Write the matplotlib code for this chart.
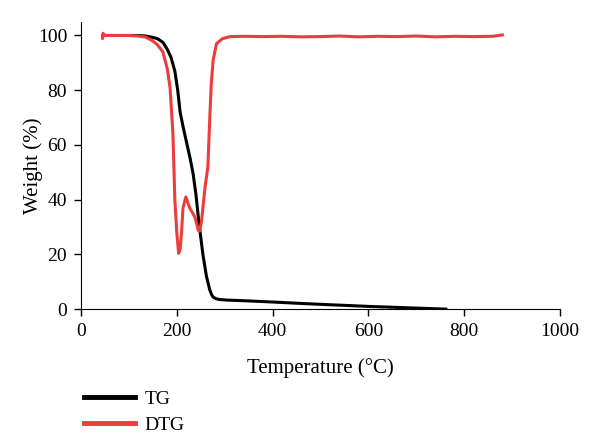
import matplotlib
matplotlib.use("Agg")
import matplotlib.pyplot as plt
from matplotlib.lines import Line2D

plt.rcParams['font.family'] = ['Liberation Serif', 'DejaVu Serif']

tg_temp = [46, 60, 90, 120, 135, 150, 160, 171, 180, 188, 196, 202, 207, 214, 221, 228, 234, 240, 246, 251, 255, 262, 269, 273, 276, 282, 290, 305, 350, 400, 457, 520, 600, 680, 730, 762]
tg_weight = [100, 100, 100, 100, 99.8, 99.3, 98.8, 97.5, 95, 92, 87, 80, 72, 66, 60.5, 55, 49.6, 42, 32, 25, 19.5, 12, 7, 5.2, 4.4, 3.8, 3.5, 3.3, 3.0, 2.6, 2.1, 1.6, 1.0, 0.5, 0.2, 0.0]

dtg_temp = [45, 46, 48, 52, 60, 80, 100, 120, 135, 150, 160, 171, 180, 186, 192, 196, 200, 204, 207, 210, 213, 219, 227, 238, 245, 248, 252, 259, 265, 269, 272, 276, 283, 295, 311, 340, 380, 420, 460, 500, 540, 580, 620, 660, 700, 740, 780, 820, 860, 880]
dtg_weight = [99, 100.8, 100.2, 100, 100, 100, 100, 99.8, 99.4, 98, 96.5, 94, 88, 81, 64, 40, 28, 20.4, 22, 28, 37, 41, 37, 33.6, 28.8, 28.5, 32.5, 44.5, 52, 70, 82, 91, 97, 98.8, 99.6, 99.7, 99.6, 99.7, 99.5, 99.6, 99.8, 99.5, 99.7, 99.6, 99.8, 99.5, 99.7, 99.6, 99.7, 100.2]

xticks = [0, 200, 400, 600, 800, 1000]
yticks = [0, 20, 40, 60, 80, 100]

fig = plt.figure(figsize=(6, 4.36), dpi=100)
ax = fig.add_axes([0.135, 0.291, 0.798, 0.659])
tg_color = '#000000'
dtg_color = '#ee3b3b'
ax.plot(tg_temp, tg_weight, color=tg_color, lw=2.2, solid_joinstyle='round')
ax.plot(dtg_temp, dtg_weight, color=dtg_color, lw=2.2, solid_joinstyle='round')

ax.set_xlim(0, 1000)
ax.set_ylim(0, 105)
ax.set_xticks(xticks)
ax.set_yticks(yticks)
ax.spines['top'].set_visible(False)
ax.spines['right'].set_visible(False)
ax.spines['bottom'].set_bounds(0, 1000)
ax.spines['left'].set_bounds(0, 105)
ax.tick_params(direction='out', length=5, width=1, labelsize=14, pad=5)
ax.set_xlabel('Temperature (°C)', fontsize=15, labelpad=13)
ax.set_ylabel('Weight (%)', fontsize=15, labelpad=-4)

handles = [Line2D([0], [0], color=tg_color, lw=3.5), Line2D([0], [0], color=dtg_color, lw=3.5)]
fig.legend(handles, ['TG', 'DTG'], loc='upper left', bbox_to_anchor=(0.14, 0.105), frameon=False,
           fontsize=14, handlelength=2.6, handletextpad=0.5, labelspacing=0.45, borderaxespad=0,
           borderpad=0)

fig.savefig('out.png', dpi=100)
